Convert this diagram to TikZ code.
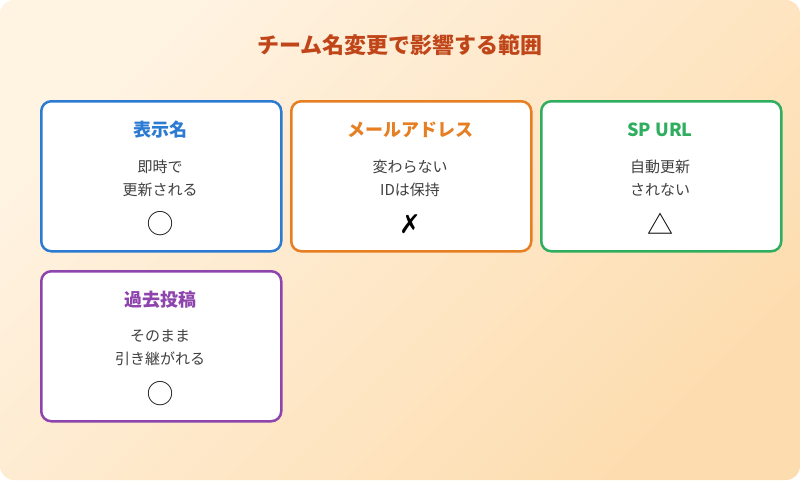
\documentclass[tikz,border=0pt]{standalone}
\usepackage{fontspec}
\setmainfont{Noto Sans CJK JP}
\newfontfamily\symfont{DejaVu Sans}
\definecolor{titlered}{HTML}{C0461A}
\definecolor{cblue}{HTML}{2B7BD3}
\definecolor{corange}{HTML}{E67E22}
\definecolor{cgreen}{HTML}{2EAE5E}
\definecolor{cpurple}{HTML}{8E44AD}
\definecolor{bgA}{HTML}{FFF3E2}
\definecolor{bgB}{HTML}{FDDDB0}
\definecolor{txt}{HTML}{404040}
\tikzset{
  card/.style={draw=#1, line width=2.5pt, fill=white, rounded corners=10pt,
    minimum width=240pt, minimum height=150pt, anchor=north west},
  head/.style={font=\fontsize{18}{20}\selectfont\bfseries, text=#1},
  body/.style={font=\fontsize{15}{23}\selectfont, text=txt, align=center},
  symb/.style={font=\fontsize{26}{26}\selectfont, text=black}
}
\begin{document}
\begin{tikzpicture}[x=1pt,y=-1pt]
\useasboundingbox (0,0) rectangle (800,480);
\shade[rounded corners=14pt, left color=bgA, right color=bgB, shading angle=45] (0,0) rectangle (800,480);
\node[font=\fontsize{22}{24}\selectfont\bfseries, text=titlered] (title) at (400,45) {チーム名変更で影響する範囲};

\node[card=cblue] (disp) at (40,100) {};
\node[head=cblue] (disph) at (160,130) {表示名};
\node[body] (dispb) at (160,178) {即時で\\更新される};
\node[symb] (dispm) at (160,224) {◯};

\node[card=corange] (mail) at (290,100) {};
\node[head=corange] (mailh) at (410,130) {メールアドレス};
\node[body] (mailb) at (410,178) {変わらない\\IDは保持};
\node[symb] (mailm) at (410,224) {{\symfont ✗}};

\node[card=cgreen] (sp) at (540,100) {};
\node[head=cgreen] (sph) at (660,130) {SP URL};
\node[body] (spb) at (660,178) {自動更新\\されない};
\node[symb] (spm) at (660,224) {△};

\node[card=cpurple] (post) at (40,270) {};
\node[head=cpurple] (posth) at (160,300) {過去投稿};
\node[body] (postb) at (160,348) {そのまま\\引き継がれる};
\node[symb] (postm) at (160,394) {◯};
\end{tikzpicture}
\end{document}
